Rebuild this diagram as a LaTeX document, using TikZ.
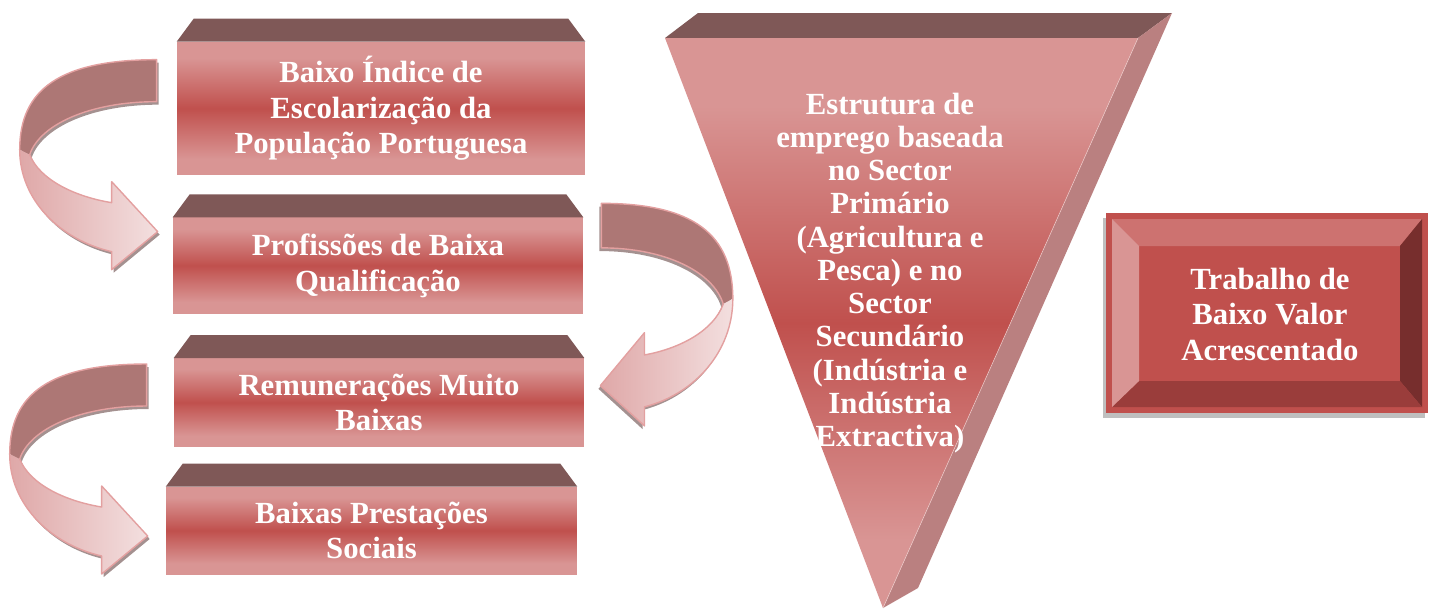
\documentclass[tikz,border=0pt]{standalone}
\usepackage{fontspec}
\setmainfont{Liberation Serif}
\usepackage{tikz}
\usetikzlibrary{positioning}

\definecolor{pinkred}{HTML}{D99594}
\definecolor{darkred}{HTML}{C0504D}
\definecolor{topbrown}{HTML}{7F5857}
\definecolor{sidered}{HTML}{BA8080}
\definecolor{ribbonback}{HTML}{AD7775}
\definecolor{ribbonline}{HTML}{E3A0A0}
\definecolor{ribbonlo}{HTML}{DFA8A8}
\definecolor{ribbonhi}{HTML}{F3DFDF}
\definecolor{bevtop}{HTML}{CD7270}
\definecolor{bevleft}{HTML}{D99594}
\definecolor{bevright}{HTML}{772E2D}
\definecolor{bevbottom}{HTML}{9A3D3B}

\pgfdeclareverticalshading{redband}{100bp}{color(0bp)=(pinkred); color(31bp)=(pinkred); color(50bp)=(darkred); color(69bp)=(pinkred); color(100bp)=(pinkred)}

\tikzset{
  bartext/.style = {text=white, font=\fontsize{17.5}{20.2}\selectfont\bfseries, align=center},
  barbox/.style = {bartext, rectangle, shading=redband, inner sep=0pt},
  lid/.style = {fill=topbrown},
  ribbonshade/.style = {left color=ribbonlo, right color=ribbonhi},
  curlarrow/.pic = {
    \fill[black!40!ribbonback, opacity=.6, shift={(2,3)}] (0,0) .. controls (-97,0) and (-137,30) .. (-137,90)
      .. controls (-137,140) and (-97,180) .. (-45,192) -- (-45,210) -- (1,172) -- (-45,122) -- (-45,143)
      .. controls (-82,137) and (-117,120) .. (-127,95) .. controls (-117,65) and (-67,42) .. (0,42) -- cycle;
    \fill[ribbonback] (0,0) .. controls (-97,0) and (-137,30) .. (-137,90) -- (-127,95)
      .. controls (-117,65) and (-67,42) .. (0,42) -- cycle;
    \shade[ribbonshade] (-137,90) .. controls (-137,140) and (-97,180) .. (-45,192)
      -- (-45,210) -- (1,172) -- (-45,122) -- (-45,143) .. controls (-82,137) and (-117,120) .. (-127,95) -- cycle;
    \draw[ribbonline, line width=0.8pt, line join=round] (0,0) .. controls (-97,0) and (-137,30) .. (-137,90)
      .. controls (-137,140) and (-97,180) .. (-45,192) -- (-45,210) -- (1,172) -- (-45,122) -- (-45,143)
      .. controls (-82,137) and (-117,120) .. (-127,95) .. controls (-117,65) and (-67,42) .. (0,42) -- cycle;
  }
}

\begin{document}
\begin{tikzpicture}[x=0.02cm, y=-0.02cm]
\useasboundingbox (0,0) rectangle (1430,610);

% left column
\node[barbox, minimum width=8.16cm, minimum height=2.66cm] (bx1) at (381,108.5) {Baixo Índice de\\Escolarização da\\População Portuguesa};
\node[barbox, minimum width=8.2cm, minimum height=1.92cm, below=0.84cm of bx1, xshift=-0.06cm] (bx2) {Profissões de Baixa\\Qualificação};
\node[barbox, minimum width=8.2cm, minimum height=1.76cm, below=0.88cm of bx2, xshift=0.02cm] (bx3) {Remunerações Muito\\Baixas};
\node[barbox, minimum width=8.22cm, minimum height=1.74cm, below=0.8cm of bx3, xshift=-0.15cm] (bx4) {Baixas Prestações\\Sociais};
\foreach \b in {bx1,bx2,bx3,bx4}
  \fill[lid] (\b.north west) -- ++(17,-23) -- ([shift={(-17,-23)}]\b.north east) -- (\b.north east) -- cycle;

\pic at ([shift={(-20,18)}]bx1.north west) {curlarrow};
\pic[xscale=-0.96, yscale=1.06] at ([shift={(18,-14)}]bx2.north east) {curlarrow};
\pic at ([shift={(-27,6)}]bx3.north west) {curlarrow};

% triangle
\coordinate (tl) at (665,38);
\coordinate (tr) at (1138,38);
\coordinate (tip) at (883,608);
\fill[lid] (tl) -- (698,13) -- (1172,13) -- (tr) -- cycle;
\fill[sidered] (tr) -- (1172,13) -- (918,588) -- (tip) -- cycle;
\shade[shading=redband] (tl) -- (tr) -- (tip) -- cycle;
\draw[pinkred!50!white, line width=0.3pt] (tr) -- (tip);
\node[bartext, font=\fontsize{17.5}{18.9}\selectfont\bfseries] (trinode) at (890,273)
  {Estrutura de\\emprego baseada\\no Sector\\Primário\\(Agricultura e\\Pesca) e no\\Sector\\Secundário\\(Indústria e\\Indústria\\Extractiva)};

% bevel box
\fill[black!25] (1103,218) rectangle (1425,418);
\fill[darkred] (1106,213) rectangle (1428,413);
\fill[bevtop] (1112,219) -- (1422,219) -- (1400,246) -- (1139,246) -- cycle;
\fill[bevright] (1422,219) -- (1422,407) -- (1400,381) -- (1400,246) -- cycle;
\fill[bevbottom] (1112,407) -- (1422,407) -- (1400,381) -- (1139,381) -- cycle;
\fill[bevleft] (1112,219) -- (1112,407) -- (1139,381) -- (1139,246) -- cycle;
\node[bartext] (valbox) at (1270,314) {Trabalho de\\Baixo Valor\\Acrescentado};
\end{tikzpicture}
\end{document}
